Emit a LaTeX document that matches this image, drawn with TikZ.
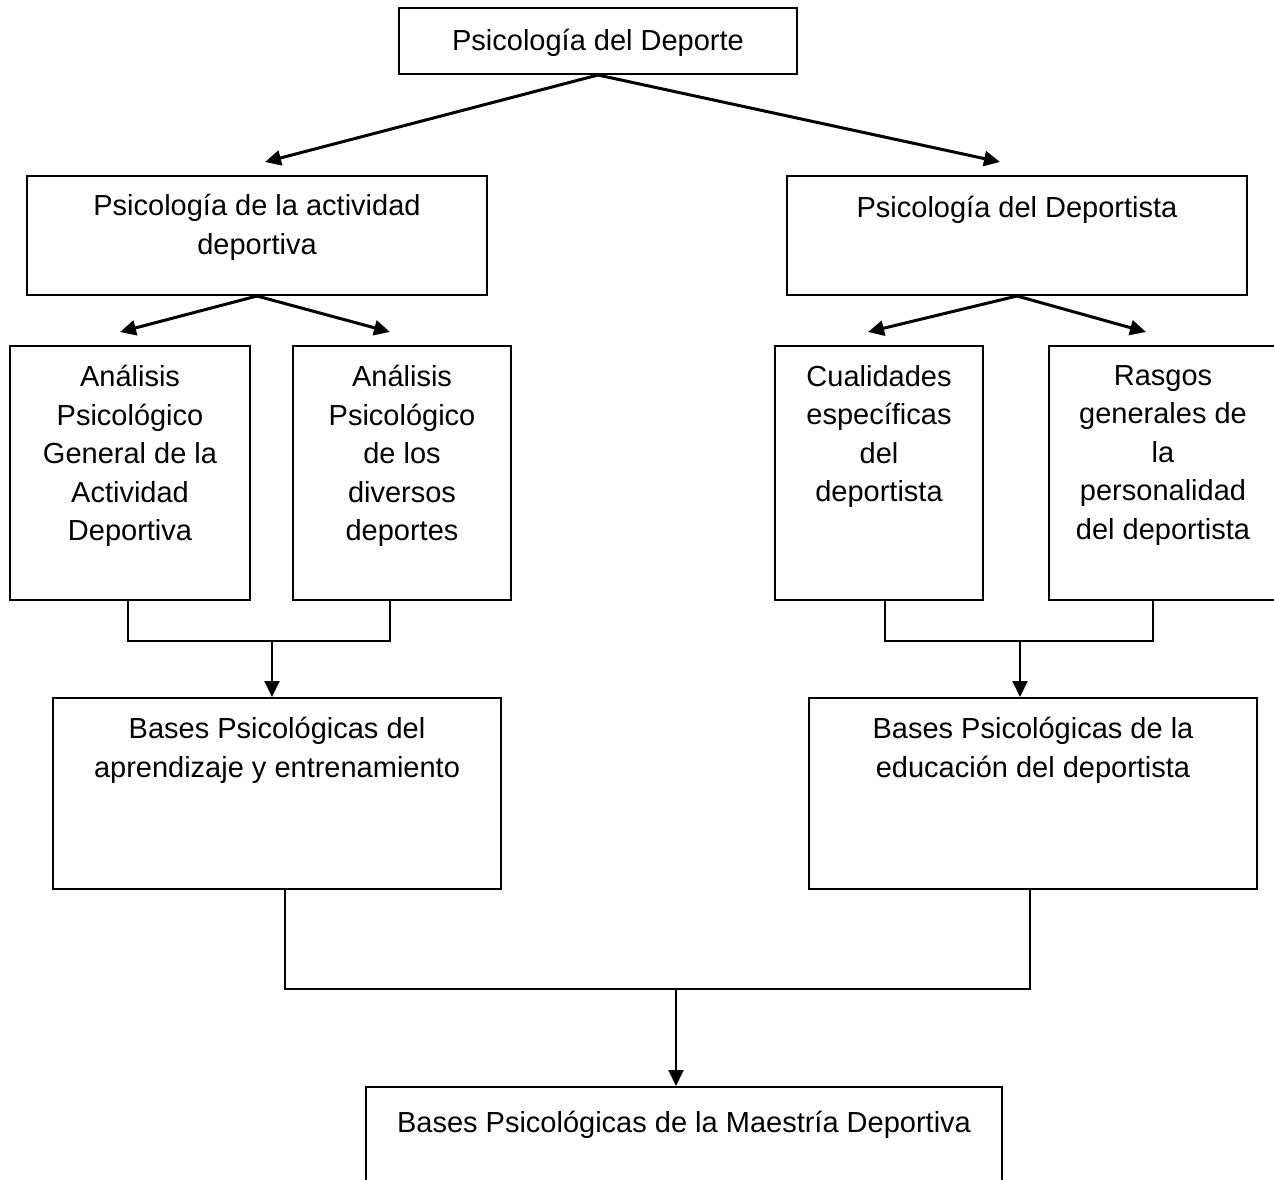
\documentclass[tikz,border=0pt]{standalone}
\usepackage{fontspec}
\setmainfont{Liberation Sans}
\usetikzlibrary{arrows.meta,positioning,calc}

\begin{document}
\begin{tikzpicture}[x=1pt,y=-1pt,
    box/.style={draw, line width=2pt, inner sep=0pt},
    txt/.style={align=center, anchor=north, inner sep=0pt, font=\fontsize{29}{38.5}\selectfont, execute at begin node={\strut}},
    line/.style={line width=2pt},
    arr/.style={line width=3pt, -{Triangle[length=16pt,width=15pt]}},
    varr/.style={line width=2pt, -{Triangle[length=16pt,width=15pt]}}]
    \useasboundingbox (0,0) rectangle (1274,1180);
    \clip (0,0) rectangle (1274,1180);

    % Top level
    \node[box, minimum width=398pt, minimum height=66pt] (dep) at (598,41) {};
    \node[txt] (dept) at ([yshift=-16pt]dep.north) {Psicología del Deporte};

    % Second level
    \node[box, minimum width=460pt, minimum height=119pt] (act) at (257,235.5) {};
    \node[box, minimum width=460pt, minimum height=119pt] (dta) at (1017,235.5) {};
    \node[txt] (actt) at ([yshift=-19pt]act.north) {Psicología de la actividad\\deportiva};
    \node[txt] (dtat) at ([yshift=-15pt]dta.north) {Psicología del Deportista};

    % Third level
    \node[box, minimum width=240pt, minimum height=254pt] (agen) at (130,473) {};
    \node[box, minimum width=218pt, minimum height=254pt] (adiv) at (402,473) {};
    \node[box, minimum width=208pt, minimum height=254pt] (cual) at (879,473) {};
    \node[box, minimum width=228pt, minimum height=254pt] (rasg) at (1163,473) {};
    \node[txt] (agent) at ([yshift=-20pt]agen.north) {Análisis\\Psicológico\\General de la\\Actividad\\Deportiva};
    \node[txt] (adivt) at ([yshift=-20pt]adiv.north) {Análisis\\Psicológico\\de los\\diversos\\deportes};
    \node[txt] (cualt) at ([yshift=-20pt]cual.north) {Cualidades\\específicas\\del\\deportista};
    \node[txt] (rasgt) at ([yshift=-20pt]rasg.north) {Rasgos\\generales de\\la\\personalidad\\del deportista};

    % Fourth level
    \node[box, minimum width=448pt, minimum height=191pt] (bapr) at (277,793.5) {};
    \node[box, minimum width=448pt, minimum height=191pt] (bedu) at (1033,793.5) {};
    \node[txt] (baprt) at ([yshift=-20pt]bapr.north) {Bases Psicológicas del\\aprendizaje y entrenamiento};
    \node[txt] (bedut) at ([yshift=-20pt]bedu.north) {Bases Psicológicas de la\\educación del deportista};

    % Bottom
    \node[box, minimum width=636pt, minimum height=153pt] (bmae) at (684,1163.5) {};
    \node[txt] (bmaet) at ([yshift=-19pt]bmae.north) {Bases Psicológicas de la Maestría Deportiva};

    % Arrows down the tree
    \draw[arr] (dep.south) -- ($(act.north)+(8,-13)$);
    \draw[arr] (dep.south) -- ($(dta.north)+(-17,-13)$);
    \draw[arr] (act.south) -- ($(agen.north)+(-10,-13)$);
    \draw[arr] (act.south) -- ($(adiv.north)+(-12,-13)$);
    \draw[arr] (dta.south) -- ($(cual.north)+(-11,-13)$);
    \draw[arr] (dta.south) -- ($(rasg.north)+(-17,-13)$);

    % Joining brackets
    \coordinate (a1) at ($(bapr.north)+(-5,0)$);
    \coordinate (a2) at ($(bedu.north)+(-13,0)$);
    \coordinate (a3) at ($(bmae.north)+(-8,0)$);
    \draw[line] ($(agen.south)+(-2,0)$) -- ++(0,40) coordinate (j1) -- ($(adiv.south)+(-12,40)$) -- ($(adiv.south)+(-12,0)$);
    \draw[varr] (a1 |- j1) -- (a1);
    \draw[line] ($(cual.south)+(6,0)$) -- ++(0,40) coordinate (j2) -- ($(rasg.south)+(-10,40)$) -- ($(rasg.south)+(-10,0)$);
    \draw[varr] (a2 |- j2) -- (a2);
    \draw[line] ($(bapr.south)+(8,0)$) -- ++(0,99) coordinate (j3) -- ($(bedu.south)+(-3,99)$) -- ($(bedu.south)+(-3,0)$);
    \draw[varr] (a3 |- j3) -- (a3);
\end{tikzpicture}
\end{document}
